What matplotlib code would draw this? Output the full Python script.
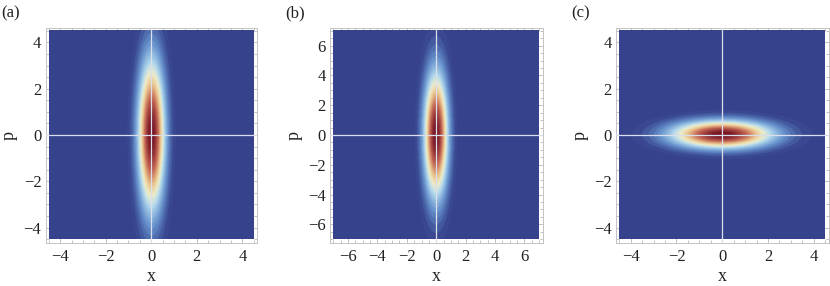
import numpy as np
import matplotlib
matplotlib.use("Agg")
import matplotlib.pyplot as plt
from matplotlib.colors import LinearSegmentedColormap, ListedColormap
from matplotlib.ticker import MultipleLocator

# Panel data (Gaussian Wigner-function widths)
panel_labels = ["(a)", "(b)", "(c)"]
half_ranges = [4.5, 7.0, 4.5]          # plotted range of x and p
sigma_x = [0.42, 0.58, 1.57]
sigma_p = [2.30, 2.97, 0.42]
tick_values = [[-4, -2, 0, 2, 4],
               [-6, -4, -2, 0, 2, 4, 6],
               [-4, -2, 0, 2, 4]]

base = LinearSegmentedColormap.from_list("rbt", [
    (0.00, (0.208, 0.259, 0.545)),
    (0.06, (0.222, 0.278, 0.565)),
    (0.22, (0.40, 0.57, 0.80)),
    (0.40, (0.70, 0.85, 0.93)),
    (0.51, (0.93, 0.93, 0.80)),
    (0.63, (0.92, 0.78, 0.56)),
    (0.79, (0.77, 0.40, 0.33)),
    (1.00, (0.44, 0.06, 0.13)),
])
n_bands = 24
cmap = ListedColormap(base((np.arange(n_bands) + 0.5) / n_bands))

W, H = 830, 286
fig = plt.figure(figsize=(W / 100, H / 100), dpi=100)
plt.rcParams['font.family'] = ['Liberation Serif', 'DejaVu Serif']

frames_x = [(45.5, 257.0), (330.0, 542.5), (616.0, 828.5)]
frame_top, frame_bot = 27.5, 242.5
pad_px = 3.3

for i in range(3):
    x0, x1 = frames_x[i]
    ax = fig.add_axes([x0 / W, 1 - frame_bot / H, (x1 - x0) / W, (frame_bot - frame_top) / H])
    R = half_ranges[i]
    img_w = (x1 - x0) - 2 * pad_px
    scale = 2 * R / img_w
    lim = R + pad_px * scale
    n = 500
    xs = np.linspace(-R, R, n)
    X, P = np.meshgrid(xs, xs)
    Z = np.exp(-X**2 / (2 * sigma_x[i]**2) - P**2 / (2 * sigma_p[i]**2))
    ax.imshow(Z, extent=(-R, R, -R, R), origin='lower', cmap=cmap, vmin=0, vmax=1,
              interpolation='bilinear', zorder=3, aspect='auto')
    ax.axhline(0, color=(0.86, 0.87, 0.92), lw=0.9, zorder=4)
    ax.axvline(0, color=(0.86, 0.87, 0.92), lw=0.9, zorder=4)
    ax.set_xlim(-lim, lim)
    ax.set_ylim(-lim, lim)
    ax.set_xticks(tick_values[i])
    ax.set_yticks(tick_values[i])
    ax.set_xticklabels([str(t).replace('-', '\u2212') for t in tick_values[i]])
    ax.set_yticklabels([str(t).replace('-', '\u2212') for t in tick_values[i]])
    ax.xaxis.set_minor_locator(MultipleLocator(0.5))
    ax.yaxis.set_minor_locator(MultipleLocator(0.5))
    ax.tick_params(which='both', direction='in', top=True, right=True,
                   color='#b8b8b8', width=0.6, labelsize=12, labelcolor='#222222')
    ax.tick_params(which='major', length=4)
    ax.tick_params(which='minor', length=2.5)
    ax.tick_params(axis='x', pad=5)
    ax.tick_params(axis='y', pad=3)
    for s in ax.spines.values():
        s.set_color('#c4c4c4')
        s.set_linewidth(0.7)
    ax.set_xlabel('x', fontsize=13, labelpad=2, color='#222222')
    ax.set_ylabel('p', fontsize=13, labelpad=4, color='#222222')
    fig.text((x0 - 45.5 + 1) / W, 1 - 13 / H, panel_labels[i], fontsize=12,
             va='center', ha='left', color='#222222')

fig.savefig("out.png", dpi=100)
